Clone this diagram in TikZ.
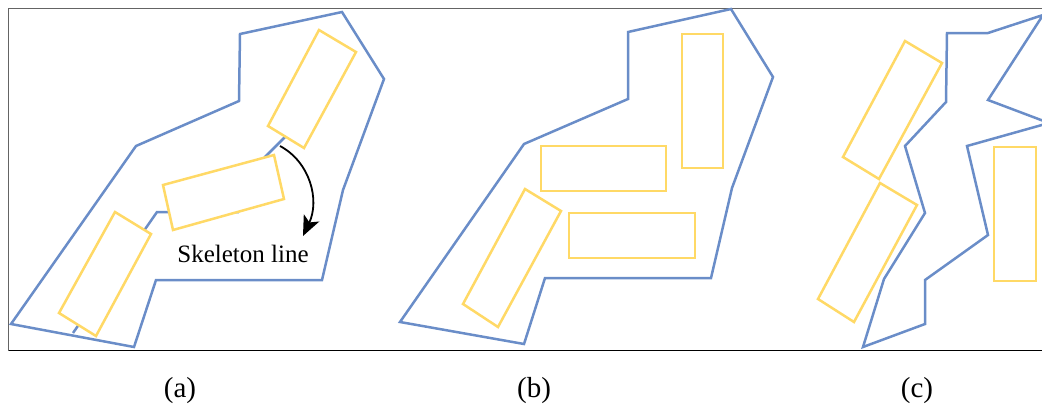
\documentclass[tikz,border=0pt]{standalone}
\usepackage{fontspec}
\setmainfont{Liberation Serif}
\usetikzlibrary{arrows.meta}
\definecolor{outlineblue}{RGB}{106,141,200}
\definecolor{blockgold}{RGB}{255,217,102}
\definecolor{framegray}{RGB}{100,100,100}

\begin{document}
\begin{tikzpicture}[x=1pt, y=-1pt, >=Stealth,
  outline/.style={draw=outlineblue, line width=2.5pt},
  block/.style={draw=blockgold, line width=2.5pt, fill=white},
  sublabel/.style={font=\fontsize{29}{34}\selectfont, anchor=base}]
  \useasboundingbox (0,0) rectangle (1042,408);
  % frame
  \draw[framegray, line width=1.5pt] (1042,8.5) -- (8.5,8.5) -- (8.5,350.5);
  \draw[black, line width=1.5pt] (8.5,350.5) -- (1042,350.5);

  % (a) outline, skeleton line and blocks
  \draw[outline] (11,324) -- (134,347) -- (156,280) -- (322,280) -- (343,190) -- (384,79)
    -- (342,12) -- (240,34) -- (239,101) -- (136,146) -- cycle;
  \draw[outline] (73,333) -- (157,212) -- (238,212) -- (265,157) -- (285,137) -- (300,118);
  \draw[block] (115,212) -- (151,234) -- (96,336) -- (59,313) -- cycle;
  \draw[block] (163,185) -- (274,155) -- (284,199) -- (173,230) -- cycle;
  \draw[block] (319,30) -- (356,52) -- (304,148) -- (268,126) -- cycle;
  \coordinate (skelpt) at (280,146);
  \coordinate (skeltip) at (303,236);
  \draw[-{Stealth[length=20pt, width=17pt, inset=5pt]}, line width=1.8pt]
    (skelpt) .. controls (310,162) and (320,200) .. (skeltip);
  \node[font=\fontsize{25}{30}\selectfont] (skeltext) at (243,254) {Skeleton line};

  % (b)
  \draw[outline] (400,322) -- (524,344) -- (545,278) -- (711,278) -- (732,188) -- (773,77)
    -- (731,9) -- (628,32) -- (628,99) -- (524,144) -- cycle;
  \draw[block] (682,34) rectangle (723,168);
  \draw[block] (541,146) rectangle (666,191);
  \draw[block] (569,213) rectangle (695,258);
  \draw[block] (525,189) -- (561,211) -- (498,327) -- (463,304) -- cycle;

  % (c)
  \begin{scope}
    \clip (0,0) rectangle (1042,408);
    \draw[outline] (863,347) -- (925,324) -- (925,280) -- (988,235) -- (967,146) -- (1049,123)
      -- (988,100) -- (1043,15) -- (988,33) -- (947,33) -- (946,102) -- (905,146)
      -- (925,213) -- (884,279) -- cycle;
  \end{scope}
  \draw[block] (905,41) -- (942,63) -- (879,179) -- (843,157) -- cycle;
  \draw[block] (880,183) -- (917,205) -- (854,322) -- (818,299) -- cycle;
  \draw[block] (994,147) rectangle (1036,281);

  % captions
  \node[sublabel] (capa) at (180,397) {(a)};
  \node[sublabel] (capb) at (534,397) {(b)};
  \node[sublabel] (capc) at (917,397) {(c)};
\end{tikzpicture}
\end{document}
